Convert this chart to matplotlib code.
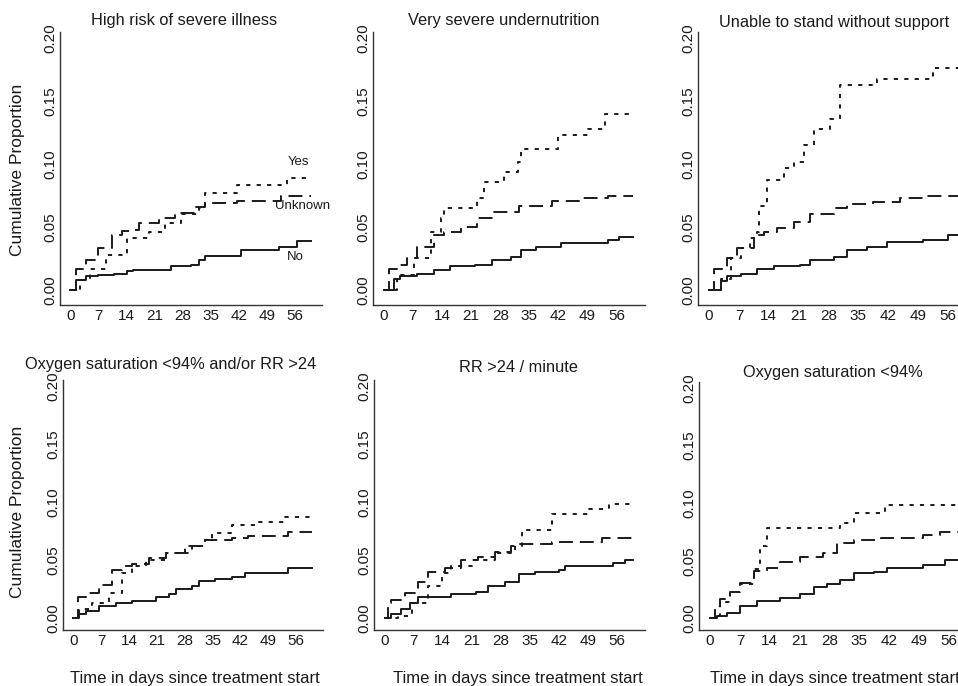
import numpy as np
import matplotlib
matplotlib.use("Agg")
import matplotlib.pyplot as plt

plt.rcParams['font.family'] = ['Liberation Sans', 'DejaVu Sans']
plt.rcParams['lines.scale_dashes'] = False

W, H = 958, 686
T_END = 60

titles = ["High risk of severe illness", "Very severe undernutrition",
          "Unable to stand without support", "Oxygen saturation <94% and/or RR >24",
          "RR >24 / minute", "Oxygen saturation <94%"]
yticks = [0.00, 0.05, 0.10, 0.15, 0.20]
ytick_labels = ["0.00", "0.05", "0.10", "0.15", "0.20"]
xticks = [0, 7, 14, 21, 28, 35, 42, 49, 56]

# panel 1 - high risk of severe illness
p1_no_t = [0, 1.5, 4, 7, 11, 14, 15.5, 25, 30, 32, 33.5, 42.5, 52, 56.5]
p1_no_v = [0, 0.008, 0.011, 0.012, 0.013, 0.015, 0.016, 0.019, 0.020, 0.024, 0.027, 0.032, 0.034, 0.039]
p1_unk_t = [0, 1.5, 4, 7, 10.5, 13, 15.5, 17, 22, 26, 31, 33.5, 41.5, 52.5]
p1_unk_v = [0, 0.017, 0.024, 0.033, 0.044, 0.047, 0.048, 0.053, 0.057, 0.061, 0.066, 0.069, 0.071, 0.075]
p1_yes_t = [0, 2.5, 5, 9, 14, 19.5, 23.5, 27.5, 32, 33.5, 41.5, 54]
p1_yes_v = [0, 0.008, 0.017, 0.028, 0.041, 0.046, 0.053, 0.060, 0.065, 0.077, 0.083, 0.089]

# panel 2 - very severe undernutrition
p2_no_t = [0, 2.5, 4, 8, 12, 16, 22, 26, 30.5, 33, 36.5, 42.5, 54, 56.5]
p2_no_v = [0, 0.009, 0.011, 0.013, 0.016, 0.019, 0.020, 0.024, 0.026, 0.032, 0.034, 0.037, 0.040, 0.042]
p2_unk_t = [0, 1.2, 4, 5.6, 8, 12, 14.5, 18.5, 22.5, 26.5, 32.5, 40.5, 47, 54]
p2_unk_v = [0, 0.017, 0.020, 0.025, 0.034, 0.044, 0.046, 0.050, 0.057, 0.062, 0.067, 0.071, 0.073, 0.075]
p2_yes_t = [0, 3.2, 7.3, 11.3, 13.7, 14.5, 22.5, 24.2, 29, 32.3, 33, 42, 49, 53.2]
p2_yes_v = [0, 0.012, 0.025, 0.046, 0.057, 0.065, 0.073, 0.086, 0.094, 0.102, 0.112, 0.123, 0.128, 0.140]

# panel 3 - unable to stand without support
p3_no_t = [0, 2.7, 4.3, 7.4, 11.3, 15.2, 21.4, 23.7, 29.2, 32.3, 36.9, 41.6, 50.2, 56]
p3_no_v = [0, 0.007, 0.011, 0.013, 0.017, 0.019, 0.020, 0.024, 0.026, 0.032, 0.034, 0.038, 0.040, 0.044]
p3_unk_t = [0, 1.2, 4.3, 6.6, 10.5, 12.8, 16, 19.8, 23.7, 29.2, 32.3, 38.5, 44.7, 50.9]
p3_unk_v = [0, 0.017, 0.025, 0.033, 0.044, 0.046, 0.049, 0.054, 0.060, 0.065, 0.068, 0.070, 0.073, 0.075]
p3_yes_t = [0, 2.7, 5.1, 7.4, 9.7, 11.3, 11.7, 13.6, 17.5, 19.8, 22.2, 24.5, 28.4, 30.7, 39.3, 52.5]
p3_yes_v = [0, 0.009, 0.025, 0.033, 0.041, 0.046, 0.067, 0.087, 0.097, 0.102, 0.115, 0.128, 0.136, 0.163, 0.168, 0.176]

# panel 4 - oxygen saturation and/or RR
p4_no_t = [0, 1.5, 3.2, 6.5, 10.7, 14.8, 20.7, 24, 25.7, 29.8, 31.5, 35.7, 39.8, 43.2, 54]
p4_no_v = [0, 0.004, 0.0065, 0.011, 0.0136, 0.015, 0.018, 0.021, 0.025, 0.028, 0.032, 0.034, 0.036, 0.039, 0.043]
p4_unk_t = [0, 1.1, 4, 6.5, 9.8, 12.3, 14.8, 19, 23.2, 29.8, 33.2, 39.8, 44, 54]
p4_unk_v = [0, 0.018, 0.022, 0.029, 0.042, 0.045, 0.047, 0.052, 0.056, 0.062, 0.067, 0.069, 0.071, 0.074]
p4_yes_t = [0, 1.5, 4.8, 9, 12.3, 14.8, 18.2, 23.2, 28.2, 33.2, 34.8, 39.8, 46.5, 53.2]
p4_yes_v = [0, 0.008, 0.0136, 0.022, 0.039, 0.045, 0.050, 0.056, 0.062, 0.067, 0.073, 0.080, 0.083, 0.087]

# panel 5 - RR > 24
p5_no_t = [0, 1.6, 4, 6, 8, 16, 22, 25, 29, 32.3, 36.3, 42, 43.5, 55, 58]
p5_no_v = [0, 0.004, 0.008, 0.0136, 0.018, 0.021, 0.023, 0.028, 0.031, 0.038, 0.040, 0.042, 0.045, 0.048, 0.050]
p5_unk_t = [0, 0.8, 1.6, 4.8, 8, 10.5, 14.5, 18.5, 22.5, 26.5, 30.5, 33, 40.3, 52.4]
p5_unk_v = [0, 0.0136, 0.016, 0.022, 0.031, 0.040, 0.043, 0.050, 0.053, 0.057, 0.062, 0.064, 0.066, 0.069]
p5_yes_t = [0, 3.2, 6.5, 10.5, 13.7, 16, 21, 26.5, 31.5, 33, 40.3, 49.2, 54]
p5_yes_v = [0, 0.002, 0.0136, 0.028, 0.039, 0.045, 0.050, 0.056, 0.064, 0.076, 0.090, 0.094, 0.098]

# panel 6 - oxygen saturation < 94%
p6_no_t = [0, 1.6, 3.9, 7, 11, 16.4, 21, 24.3, 27.4, 30.5, 33.7, 38.4, 41.5, 50, 55]
p6_no_v = [0, 0.002, 0.005, 0.011, 0.015, 0.018, 0.021, 0.027, 0.030, 0.033, 0.039, 0.040, 0.044, 0.046, 0.051]
p6_unk_t = [0, 1.2, 2.3, 4.7, 7, 10.2, 13.3, 16.4, 21, 26.5, 29.8, 33.7, 40, 50, 54]
p6_unk_v = [0, 0.011, 0.017, 0.023, 0.031, 0.041, 0.044, 0.049, 0.053, 0.057, 0.065, 0.068, 0.070, 0.072, 0.075]
p6_yes_t = [0, 1.2, 2.3, 4.7, 7, 10.2, 11.7, 13.3, 30.5, 33.7, 41.1]
p6_yes_v = [0, 0.002, 0.014, 0.023, 0.030, 0.043, 0.063, 0.078, 0.083, 0.091, 0.098]

panels = [
    (p1_no_t, p1_no_v, p1_unk_t, p1_unk_v, p1_yes_t, p1_yes_v),
    (p2_no_t, p2_no_v, p2_unk_t, p2_unk_v, p2_yes_t, p2_yes_v),
    (p3_no_t, p3_no_v, p3_unk_t, p3_unk_v, p3_yes_t, p3_yes_v),
    (p4_no_t, p4_no_v, p4_unk_t, p4_unk_v, p4_yes_t, p4_yes_v),
    (p5_no_t, p5_no_v, p5_unk_t, p5_unk_v, p5_yes_t, p5_yes_v),
    (p6_no_t, p6_no_v, p6_unk_t, p6_unk_v, p6_yes_t, p6_yes_v),
]

# axes boxes in pixels: left, right, top, bottom
boxes = [(60, 322, 32, 305), (373, 645, 32, 305), (698, 977, 32, 305),
         (63, 323, 380, 630), (374, 645, 380, 630), (699, 978, 382, 630)]
ylims = [(-0.012, 0.205)] * 3 + [(-0.01, 0.205)] * 3
title_pos = [(184, 21), (504, 21), (834, 22), (171, 365), (518, 368), (833, 372)]

ink = '#1a1a1a'
styles = [dict(ls='-'), dict(ls=(0, (10, 5))), dict(ls=(0, (3, 4.5)))]

fig = plt.figure(figsize=(W / 100, H / 100), dpi=100)
for i, (box, data) in enumerate(zip(boxes, panels)):
    l, r, t, b = box
    ax = fig.add_axes([l / W, 1 - b / H, (r - l) / W, (b - t) / H])
    for k in range(3):
        tt = np.append(data[2 * k], T_END)
        vv = np.append(data[2 * k + 1], data[2 * k + 1][-1])
        ax.step(tt, vv, where='post', color=ink, lw=1.4, **styles[k])
    ax.set_xlim(-2.6, 62.8)
    ax.set_ylim(*ylims[i])
    ax.set_xticks(xticks)
    ax.set_yticks(yticks)
    ax.set_yticklabels(ytick_labels, rotation=90, va='center')
    ax.tick_params(length=0, labelsize=11, colors=ink)
    ax.tick_params(axis='x', pad=3)
    ax.tick_params(axis='y', pad=2)
    for s in ['top', 'right']:
        ax.spines[s].set_visible(False)
    for s in ['left', 'bottom']:
        ax.spines[s].set_color('#333333')
        ax.spines[s].set_linewidth(1.0)
    fig.text(title_pos[i][0] / W, 1 - title_pos[i][1] / H, titles[i],
             ha='center', va='center', fontsize=11.8, color=ink)
    if i == 0:
        ax.text(298 / W, 1 - 162 / H, "Yes", transform=fig.transFigure,
                ha='center', va='center', fontsize=9.5, color=ink)
        ax.text(303 / W, 1 - 206 / H, "Unknown", transform=fig.transFigure,
                ha='center', va='center', fontsize=9.5, color=ink)
        ax.text(295 / W, 1 - 257 / H, "No", transform=fig.transFigure,
                ha='center', va='center', fontsize=9.5, color=ink)

# axis titles
for y in [170, 512]:
    fig.text(18 / W, 1 - y / H, "Cumulative Proportion", rotation=90,
             ha='center', va='center', fontsize=12.5, color=ink)
for x in [195, 518, 835]:
    fig.text(x / W, 1 - 678 / H, "Time in days since treatment start",
             ha='center', va='center', fontsize=12, color=ink)

fig.savefig("out.png", dpi=100, facecolor='white')
